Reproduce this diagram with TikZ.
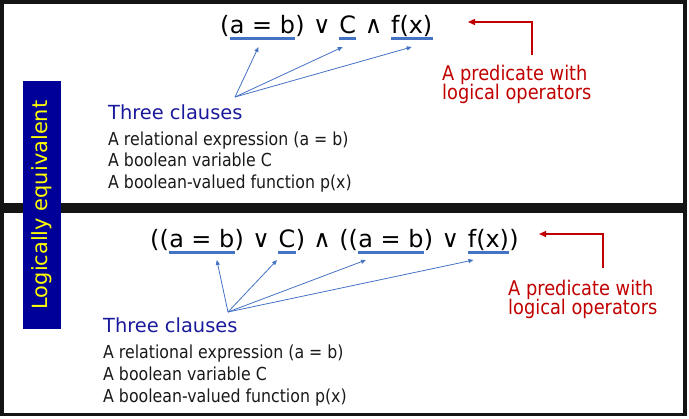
\documentclass[tikz,border=0pt]{standalone}
\usepackage{fontspec}
\setmainfont{DejaVu Sans}
\newfontfamily\narrowfont{DejaVu Sans}[FakeStretch=0.88]
\usepackage{xcolor}
\usetikzlibrary{arrows.meta,positioning,calc}

\definecolor{framegray}{RGB}{20,20,20}
\definecolor{barblue}{RGB}{0,0,153}
\definecolor{baryellow}{RGB}{255,255,0}
\definecolor{lineblue}{RGB}{68,114,196}
\definecolor{headblue}{RGB}{25,25,155}
\definecolor{predred}{RGB}{192,0,0}
\definecolor{bodyblack}{RGB}{25,25,25}
\newcommand{\opsp}{\kern.35em}

\begin{document}
\begin{tikzpicture}[x=1bp,y=-1bp,
  formula/.style={inner sep=0pt, anchor=base west, text=black, font=\fontsize{24}{28}\selectfont},
  uline/.style={draw=lineblue, line width=3bp},
  clausearrow/.style={draw=lineblue, line width=0.8bp, -{Triangle[length=5bp,width=4bp]}},
  predarrow/.style={draw=predred, line width=1.4bp, -{Triangle[length=7bp,width=6bp]}},
  predtext/.style={inner sep=0pt, anchor=base west, text=predred, font=\narrowfont\fontsize{20.3}{24}\selectfont},
  clausehead/.style={inner sep=0pt, anchor=base west, text=headblue, font=\fontsize{19.5}{23}\selectfont},
  clauseline/.style={inner sep=0pt, anchor=base west, text=bodyblack, font=\narrowfont\fontsize{18}{21}\selectfont}]
  \useasboundingbox (0,0) rectangle (689,418);

  % frame and divider
  \fill[framegray] (0,203) rectangle (687,213);
  \draw[framegray, line width=3.5bp] (1.75,1.75) rectangle (685,414.5);

  \node[fill=barblue, text=baryellow, rotate=90, minimum width=248bp, minimum height=38bp,
    inner sep=0pt, font=\fontsize{21}{25}\selectfont] (bar) at (42,205) {Logically equivalent};

  % upper predicate
  \node[formula] (t0) at (220,33) {(};
  \node[formula] (tab) at (t0.base east) {a = b};
  \node[formula] (t1) at (tab.base east) {)\opsp∨\opsp};
  \node[formula] (tc) at (t1.base east) {C};
  \node[formula] (t2) at (tc.base east) {\opsp∧\opsp};
  \node[formula] (tfx) at (t2.base east) {f(x)};

  % lower predicate
  \node[formula] (b0) at (150,247) {((};
  \node[formula] (bab) at (b0.base east) {a = b};
  \node[formula] (b1) at (bab.base east) {)\opsp∨\opsp};
  \node[formula] (bc) at (b1.base east) {C};
  \node[formula] (b2) at (bc.base east) {)\opsp∧\opsp((};
  \node[formula] (bab2) at (b2.base east) {a = b};
  \node[formula] (b3) at (bab2.base east) {)\opsp∨\opsp};
  \node[formula] (bfx) at (b3.base east) {f(x)};
  \node[formula] (b4) at (bfx.base east) {)};

  \foreach \n in {tab,tc,tfx,bab,bc,bab2,bfx}
    \draw[uline] ([yshift=-5.5bp]\n.base west) -- ([yshift=-5.5bp]\n.base east);

  % clause arrows
  \coordinate (tsrc) at (235,97);
  \foreach \n/\dx in {tab/-4,tc/-5,tfx/0}
    \draw[clausearrow] (tsrc) -- ([xshift=\dx bp,yshift=-14bp]\n.base);
  \coordinate (bsrc) at (228,312);
  \foreach \n/\dx in {bab/15,bc/-10,bab2/-25,bfx/-15}
    \draw[clausearrow] (bsrc) -- ([xshift=\dx bp,yshift=-13bp]\n.base);

  % clause lists
  \node[clausehead] (th) at (108,119) {Three clauses};
  \node[clauseline] (tl1) at (108,145) {A relational expression (a = b)};
  \node[clauseline] (tl2) at ([yshift=-21.5bp]tl1.base west) {A boolean variable C};
  \node[clauseline] (tl3) at ([yshift=-21.5bp]tl2.base west) {A boolean-valued function p(x)};

  \node[clausehead] (bh) at (103,332) {Three clauses};
  \node[clauseline] (bl1) at (103,358) {A relational expression (a = b)};
  \node[clauseline] (bl2) at ([yshift=-22bp]bl1.base west) {A boolean variable C};
  \node[clauseline] (bl3) at ([yshift=-22bp]bl2.base west) {A boolean-valued function p(x)};

  % predicate notes
  \node[predtext] (tp1) at (442,80) {A predicate with};
  \node[predtext] (tp2) at ([yshift=-19.5bp]tp1.base west) {logical operators};
  \coordinate (tptail) at (532,55);
  \coordinate (tphead) at (468,22);
  \draw[predarrow] (tptail) |- (tphead);

  \node[predtext] (bp1) at (508,295) {A predicate with};
  \node[predtext] (bp2) at ([yshift=-19.5bp]bp1.base west) {logical operators};
  \coordinate (bptail) at (603,268);
  \coordinate (bphead) at (539,234);
  \draw[predarrow] (bptail) |- (bphead);
\end{tikzpicture}
\end{document}
